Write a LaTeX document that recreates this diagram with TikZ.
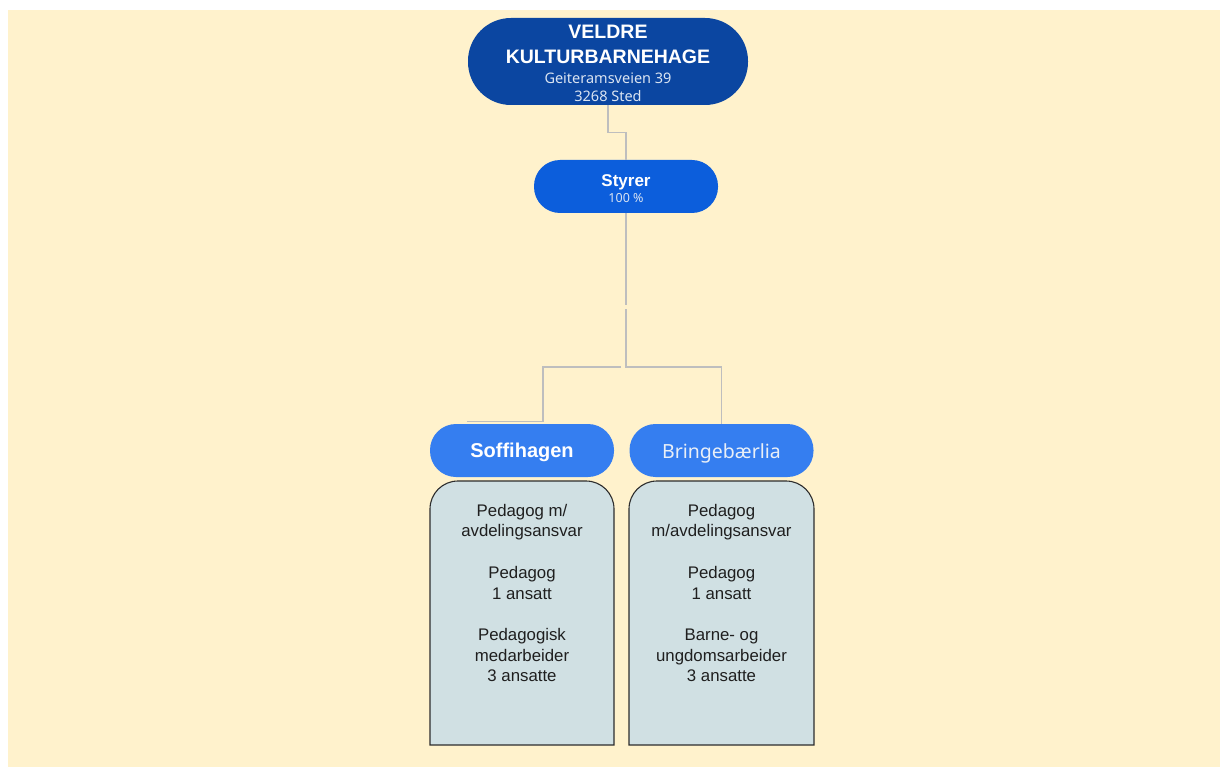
\documentclass[tikz,border=0pt]{standalone}
\usepackage{fontspec}
\setmainfont{Liberation Sans}
\newfontfamily\headfont{Noto Sans}
\usetikzlibrary{positioning}
\definecolor{page}{RGB}{255,242,204}
\definecolor{barnehage}{RGB}{11,70,161}
\definecolor{styrer}{RGB}{12,94,220}
\definecolor{avdeling}{RGB}{53,126,240}
\definecolor{team}{RGB}{208,224,227}
\definecolor{connector}{RGB}{190,190,190}
\definecolor{teamline}{RGB}{45,45,45}
\definecolor{adresse}{RGB}{218,228,242}
\tikzstyle{pill} = [inner sep=0pt, align=center, text=white, minimum width=184pt, minimum height=53pt, rounded corners=26pt]
\tikzstyle{link} = [draw=connector, line width=1.3pt]
\tikzstyle{teamframe} = [fill=team, draw=teamline, line width=1.1pt]
\tikzstyle{teamtext} = [inner sep=0pt, align=center, text=black!88, font=\fontsize{16.8}{20.7}\selectfont]

\begin{document}
\begin{tikzpicture}[x=1pt, y=-1pt]
    \useasboundingbox (0,0) rectangle (1220,767);
    \fill[white] (0,0) rectangle (1220,767);
    \fill[page] (8,10) rectangle (1220,767);

    \node[pill, fill=barnehage, minimum width=280pt, minimum height=87pt, rounded corners=43pt,
        font=\bfseries\fontsize{19.5}{18}\selectfont] (barnehage) at (608,61.5)
        {\rule{0pt}{17pt}VELDRE\\[7pt]KULTURBARNEHAGE\\[2pt]
         {\headfont\fontsize{14.5}{18}\selectfont\color{adresse}Geiteramsveien 39}\\
         {\headfont\fontsize{14.5}{18}\selectfont\color{adresse}3268 Sted}};

    \node[pill, fill=styrer, font=\bfseries\fontsize{17}{16}\selectfont] (styrer) at (626,186.5)
        {\rule{0pt}{16pt}Styrer\\{\headfont\fontsize{12.5}{16}\selectfont\color{adresse}100 \%}};

    \node[pill, fill=avdeling, text height=14pt, text depth=0pt,
        font=\bfseries\fontsize{20}{22}\selectfont] (soffi) at (522,450.5) {Soffihagen};
    \node[pill, fill=avdeling, text=adresse!60!white, text height=15pt, text depth=0pt,
        font=\headfont\fontsize{19.5}{22}\selectfont] (bringe) at (721.5,450.5) {Bringebærlia};

    \draw[teamframe] (430,745) -- (430,509) .. controls (430,493.5) and (442.5,481) .. (458,481)
        -- (586,481) .. controls (601.5,481) and (614,493.5) .. (614,509) -- (614,745) -- cycle;
    \draw[teamframe] (629,745) -- (629,509) .. controls (629,493.5) and (641.5,481) .. (657,481)
        -- (786,481) .. controls (801.5,481) and (814,493.5) .. (814,509) -- (814,745) -- cycle;

    \node[teamtext] (soffiteam) at (522,593)
        {Pedagog m/\\avdelingsansvar\\ \\Pedagog\\1 ansatt\\ \\Pedagogisk\\medarbeider\\3 ansatte};
    \node[teamtext] (bringeteam) at (721.5,593)
        {Pedagog\\m/avdelingsansvar\\ \\Pedagog\\1 ansatt\\ \\Barne- og\\ungdomsarbeider\\3 ansatte};

    \draw[link] (barnehage.south) -- ++(0,27.5) -| (styrer.north);

    \coordinate (fork) at (626,367);
    \draw[link] (styrer.south) -- ++(0,92) coordinate (gap);
    \draw[link] ([yshift=-4pt]gap) -- (fork) -| (bringe.north);
    \draw[link] ([xshift=-5pt]fork) -| ([xshift=21pt, yshift=2pt]soffi.north)
        -- ([xshift=-55pt, yshift=2pt]soffi.north);
\end{tikzpicture}
\end{document}
